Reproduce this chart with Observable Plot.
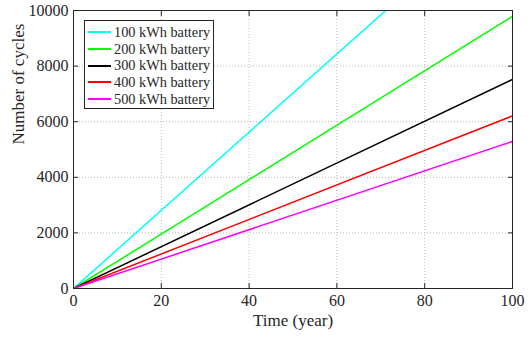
<!DOCTYPE html>
<html>
<head>
<meta charset="utf-8">
<script src="https://cdn.jsdelivr.net/npm/d3@7"></script>
<script src="https://cdn.jsdelivr.net/npm/@observablehq/plot@0.6"></script>
<style>
  html, body { margin: 0; padding: 0; background: #fff; }
  #wrap { position: relative; width: 529px; height: 340px; font-family: 'Liberation Serif'; }
  #wrap svg text { font-family: 'Liberation Serif'; }
  #legend {
    position: absolute; left: 84px; top: 20px; width: 130px; height: 89px;
    border: 1px solid #262626; background: #fff; box-sizing: border-box;
    padding-top: 3px;
  }
  .row { display: flex; align-items: center; height: 16.7px; font-size: 14.3px; color: #262626; font-family: 'Liberation Serif'; }
  .swatch { width: 23px; height: 2px; margin-left: 3px; margin-right: 3px; }
</style>
</head>
<body>
<div id="wrap"></div>
<script>
// Cycle count grows linearly with time for each battery size
const years = [0, 100];
const batteries = ["100 kWh battery", "200 kWh battery", "300 kWh battery", "400 kWh battery", "500 kWh battery"];
const colors = ["#00ffff", "#00ff00", "#000000", "#ff0000", "#ff00ff"];
const cyclesAtEnd = [14060, 9790, 7520, 6210, 5290];
const xTicks = [0, 20, 40, 60, 80, 100];
const yTicks = [0, 2000, 4000, 6000, 8000, 10000];

const rows = [];
batteries.forEach((name, i) => {
  years.forEach((yr, j) => rows.push({battery: name, year: yr, cycles: j === 0 ? 0 : cyclesAtEnd[i]}));
});

const font = "Liberation Serif";
const ink = "#262626";

const chart = Plot.plot({
  width: 529,
  height: 340,
  marginLeft: 73,
  marginRight: 17,
  marginTop: 10,
  marginBottom: 52,
  style: {fontFamily: font, fontSize: "16px", color: ink, background: "#fff"},
  x: {domain: [0, 100]},
  y: {domain: [0, 10000]},
  color: {domain: batteries, range: colors},
  marks: [
    Plot.gridX(xTicks, {stroke: "#bbb", strokeOpacity: 1, strokeDasharray: "1,2"}),
    Plot.gridY(yTicks, {stroke: "#bbb", strokeOpacity: 1, strokeDasharray: "1,2"}),
    Plot.line(rows, {x: "year", y: "cycles", z: "battery", stroke: "battery", strokeWidth: 1.5, clip: true}),
    // inward tick marks on all four sides
    Plot.axisX(xTicks, {anchor: "bottom", tickSize: -5, text: null, label: null, stroke: ink}),
    Plot.axisX(xTicks, {anchor: "top", tickSize: -5, text: null, label: null, stroke: ink}),
    Plot.axisY(yTicks, {anchor: "left", tickSize: -5, text: null, label: null, stroke: ink}),
    Plot.axisY(yTicks, {anchor: "right", tickSize: -5, text: null, label: null, stroke: ink}),
    // tick labels
    Plot.axisX(xTicks, {anchor: "bottom", tickSize: 0, tickPadding: 6, label: null, fill: ink, fontSize: 16, fontFamily: font}),
    Plot.axisY(yTicks, {anchor: "left", tickSize: 0, tickPadding: 5, tickFormat: d => String(d), label: null, fill: ink, fontSize: 16, fontFamily: font}),
    // axis titles
    Plot.text(["Time (year)"], {frameAnchor: "bottom", dy: 37, fill: ink, fontSize: 17, fontFamily: font}),
    Plot.text(["Number of cycles"], {frameAnchor: "left", dx: -55, dy: -5, rotate: -90, fill: ink, fontSize: 17, fontFamily: font}),
    Plot.frame({stroke: ink, strokeWidth: 1})
  ]
});

const wrap = document.getElementById("wrap");
wrap.appendChild(chart);

const legend = document.createElement("div");
legend.id = "legend";
batteries.forEach((name, i) => {
  const row = document.createElement("div");
  row.className = "row";
  const sw = document.createElement("span");
  sw.className = "swatch";
  sw.style.background = colors[i];
  const label = document.createElement("span");
  label.textContent = name;
  row.appendChild(sw);
  row.appendChild(label);
  legend.appendChild(row);
});
wrap.appendChild(legend);
</script>
</body>
</html>
